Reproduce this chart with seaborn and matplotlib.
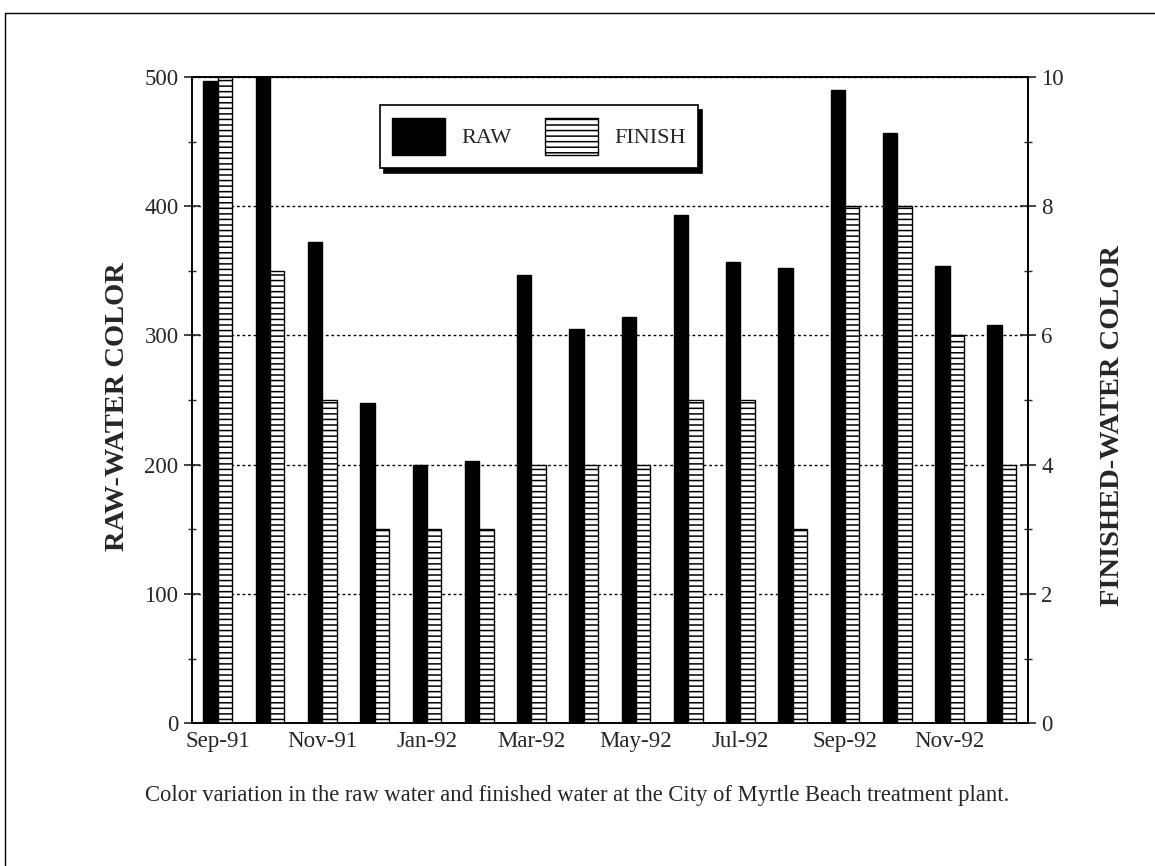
import numpy as np
import seaborn as sns
import matplotlib
matplotlib.use("Agg")
import matplotlib.pyplot as plt
from matplotlib.patches import Patch
from matplotlib.lines import Line2D
from matplotlib.ticker import MultipleLocator

# data
months = ["Sep-91", "Oct-91", "Nov-91", "Dec-91", "Jan-92", "Feb-92", "Mar-92", "Apr-92",
          "May-92", "Jun-92", "Jul-92", "Aug-92", "Sep-92", "Oct-92", "Nov-92", "Dec-92"]
raw_color = [497, 500, 372, 248, 200, 203, 347, 305, 314, 393, 357, 352, 490, 457, 354, 308]
finish_color = [10, 7, 5, 3, 3, 3, 4, 4, 4, 5, 5, 3, 8, 8, 6, 4]
series_names = ["RAW", "FINISH"]
caption = "Color variation in the raw water and finished water at the City of Myrtle Beach treatment plant."

sns.set_style("white")
plt.rcParams["font.family"] = ["Liberation Serif", "DejaVu Serif"]
plt.rcParams["hatch.linewidth"] = 1.1

fig = plt.figure(figsize=(11.55, 8.66), dpi=100)
ax1 = fig.add_axes([0.166, 0.165, 0.724, 0.746])
ax2 = ax1.twinx()

w = 0.275
pos = np.arange(len(months))

sns.barplot(x=pos - w / 2, y=raw_color, native_scale=True, width=w, color="black",
            edgecolor="black", saturation=1, errorbar=None, ax=ax1)
sns.barplot(x=pos + w / 2, y=finish_color, native_scale=True, width=w, color="white",
            edgecolor="black", linewidth=1.0, hatch="---", saturation=1, errorbar=None, ax=ax2)

ax1.set_xlim(-0.5, len(months) - 0.5)
ax1.set_ylim(0, 500)
ax2.set_ylim(0, 10)

ax1.yaxis.set_major_locator(MultipleLocator(100))
ax1.yaxis.set_minor_locator(MultipleLocator(50))
ax2.yaxis.set_major_locator(MultipleLocator(2))
ax2.yaxis.set_minor_locator(MultipleLocator(1))
ax1.set_xticks(pos[::2])
ax1.set_xticklabels(months[::2])
ax1.set_xticks(pos[1::2], minor=True)

ax1.tick_params(axis="y", which="major", direction="inout", length=12, width=1.2, labelsize=16.5)
ax1.tick_params(axis="y", which="minor", direction="inout", length=6, width=1.0)
ax1.tick_params(axis="x", which="major", direction="inout", length=8, width=1.0, labelsize=16.5, pad=2)
ax1.tick_params(axis="x", which="minor", direction="inout", length=6, width=1.0)
ax2.tick_params(axis="y", which="major", direction="inout", length=12, width=1.2, labelsize=16.5)
ax2.tick_params(axis="y", which="minor", direction="inout", length=6, width=1.0)

ax1.yaxis.grid(True, which="major", linestyle=(0, (2, 2)), color="black", linewidth=1.0)
ax1.set_axisbelow(True)

for ax in (ax1, ax2):
    for s in ax.spines.values():
        s.set_color("black")
        s.set_linewidth(1.2)

ax1.set_ylabel("RAW-WATER COLOR", fontsize=20.5, fontweight="bold")
ax2.set_ylabel("FINISHED-WATER COLOR", fontsize=20.5, fontweight="bold")
ax1.yaxis.set_label_coords(-0.074, 0.49)
ax2.yaxis.set_label_coords(1.086, 0.46)
ax1.set_xlabel("")

handles = [Patch(facecolor="black", edgecolor="black"),
           Patch(facecolor="white", edgecolor="black", hatch="---")]
leg = ax2.legend(handles, series_names, loc="center", bbox_to_anchor=(0.415, 0.908),
                 ncol=2, fontsize=16, handlelength=2.4, handleheight=2.25,
                 handletextpad=0.72, columnspacing=1.5, borderpad=0.55,
                 fancybox=False, framealpha=1, edgecolor="black",
                 shadow={"color": "black", "alpha": 1.0, "ox": 3, "oy": -3.5})
leg.get_frame().set_linewidth(1.2)

fig.text(0.5, 1 - 795 / 866, caption, ha="center", va="center", fontsize=16.3)

# page frame (top and left edges visible)
fig.add_artist(Line2D([0.0043, 0.0043], [0.0, 0.985], color="black", linewidth=1.0))
fig.add_artist(Line2D([0.0043, 1.0], [0.985, 0.985], color="black", linewidth=1.0))

fig.savefig("out.png", dpi=100)
